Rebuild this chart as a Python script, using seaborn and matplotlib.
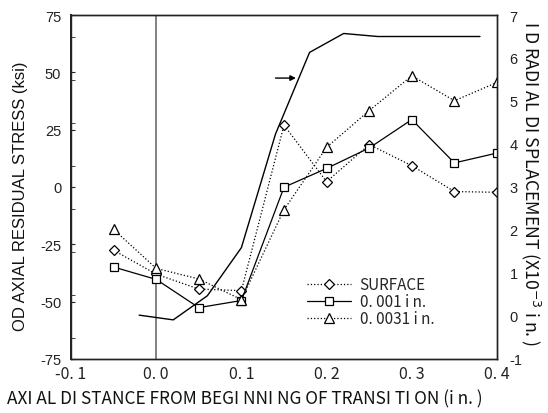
import matplotlib
matplotlib.use("Agg")
import matplotlib.pyplot as plt
from matplotlib.ticker import MultipleLocator
import pandas as pd
import seaborn as sns

# Axial positions of the residual-stress measurements (in.)
positions = [-0.05, 0.0, 0.05, 0.10, 0.15, 0.20, 0.25, 0.30, 0.35, 0.40]
# OD axial residual stress (ksi) at each depth
stress_surface = [-27.6, -38.0, -44.5, -45.2, 27.0, 2.3, 18.5, 9.3, -2.0, -2.3]
stress_0001 = [-34.9, -40.3, -52.6, -49.5, -0.1, 8.1, 17.0, 29.4, 10.5, 14.8]
stress_00031 = [-18.5, -35.5, -40.1, -49.1, -9.9, 17.3, 33.3, 48.5, 37.6, 45.6]
series_labels = ["SURFACE", "0. 001 i n.", "0. 0031 i n."]

# ID radial displacement profile (x 1e-3 in.)
disp_positions = [-0.02, 0.02, 0.06, 0.10, 0.14, 0.18, 0.22, 0.26, 0.38]
disp_values = [0.02, -0.09, 0.47, 1.59, 4.23, 6.13, 6.57, 6.50, 6.50]

x_ticks = [-0.1, 0.0, 0.1, 0.2, 0.3, 0.4]
x_tick_labels = ["-0. 1", "0. 0", "0. 1", "0. 2", "0. 3", "0. 4"]
y_ticks = [-75, -50, -25, 0, 25, 50, 75]
y2_ticks = [-1, 0, 1, 2, 3, 4, 5, 6, 7]

sns.set_style("white")
plt.rcParams["font.family"] = ["Liberation Sans", "DejaVu Sans"]
GOTHIC = ["Noto Sans CJK JP", "DejaVu Sans"]

fig = plt.figure(figsize=(5.48, 4.14), dpi=100)
ax = fig.add_axes([71 / 548, 1 - 360 / 414, 426 / 548, 344 / 414])

# vertical reference line at the start of the transition
ax.axvline(0.0, color="#777777", lw=1.3, zorder=1)

styles = [
    dict(marker="D", linestyle=":", markersize=5.5),
    dict(marker="s", linestyle="-", markersize=6),
    dict(marker="^", linestyle=":", markersize=6.5),
]
for vals, lab, st in zip([stress_surface, stress_0001, stress_00031], series_labels, styles):
    df = pd.DataFrame({"x": positions, "y": vals})
    sns.lineplot(data=df, x="x", y="y", ax=ax, color="black", lw=0.9,
                 markerfacecolor="white", markeredgecolor="black",
                 markeredgewidth=0.9, label=lab, zorder=3, **st)

ax.set_xlim(-0.1, 0.4)
ax.set_ylim(-75, 75)
ax.set_xticks(x_ticks)
ax.set_xticklabels(x_tick_labels, family=GOTHIC, fontsize=11.5)
ax.set_yticks(y_ticks)
ax.set_yticklabels([str(v) for v in y_ticks], fontsize=10.5, color="#222222")
ax.xaxis.set_minor_locator(MultipleLocator(0.025))
ax.tick_params(axis="x", which="both", direction="in", length=3, pad=4, colors="#222222")
ax.tick_params(axis="y", which="major", direction="in", length=3, pad=7)

ax.set_xlabel("AXI AL DI STANCE FROM BEGI NNI NG OF TRANSI TI ON (i n. )",
              family=GOTHIC, fontsize=12.4, color="#111111")
ax.xaxis.set_label_coords((245 - 71) / 426, -(399 - 360) / 344)
ax.xaxis.label.set_verticalalignment("center")
ax.set_ylabel("OD AXIAL RESIDUAL STRESS (ksi)", fontsize=12, color="#111111")
ax.yaxis.set_label_coords(-(71 - 21) / 426, (360 - 196) / 344)
ax.yaxis.label.set_verticalalignment("center")

# arrow pointing at the displacement curve
ax.annotate("", xy=(0.1640, 47.5), xytext=(0.1400, 47.5),
            arrowprops=dict(arrowstyle="-|>", color="black", lw=1.0,
                            mutation_scale=8, shrinkA=0, shrinkB=0))

leg = ax.legend(loc="upper left", bbox_to_anchor=((307 - 71) / 426, (360 - 277) / 344),
                frameon=False, borderaxespad=0, borderpad=0, handlelength=2.85,
                handletextpad=0.6, labelspacing=0.0, prop=dict(family=GOTHIC, size=11))

# displacement on the secondary axis
ax2 = ax.twinx()
ddf = pd.DataFrame({"x": disp_positions, "y": disp_values})
sns.lineplot(data=ddf, x="x", y="y", ax=ax2, color="black", lw=1.0, zorder=2)
ax2.set_ylim(-1, 7)
ax2.set_yticks(y2_ticks)
ax2.set_yticklabels([str(v) for v in y2_ticks], fontsize=10.5, color="#222222")
ax2.yaxis.set_minor_locator(MultipleLocator(0.5))
ax2.tick_params(axis="y", which="major", length=0, pad=9)
ax2.tick_params(axis="y", which="minor", left=True, right=False, direction="in", length=3)
ax2.set_ylabel("I D RADI AL DI SPLACEMENT (X10$^{-3}$ i n. )", family=GOTHIC,
               fontsize=12.8, rotation=270, color="#111111")
ax2.yaxis.set_label_coords((531 - 71) / 426, (360 - 184) / 344)
ax2.yaxis.label.set_verticalalignment("center")

for a in (ax, ax2):
    for sp in a.spines.values():
        sp.set_visible(True)
        sp.set_color("#222222")
        sp.set_linewidth(1.0)
ax.spines["left"].set_linewidth(1.4)

fig.savefig("out.png", dpi=100)
